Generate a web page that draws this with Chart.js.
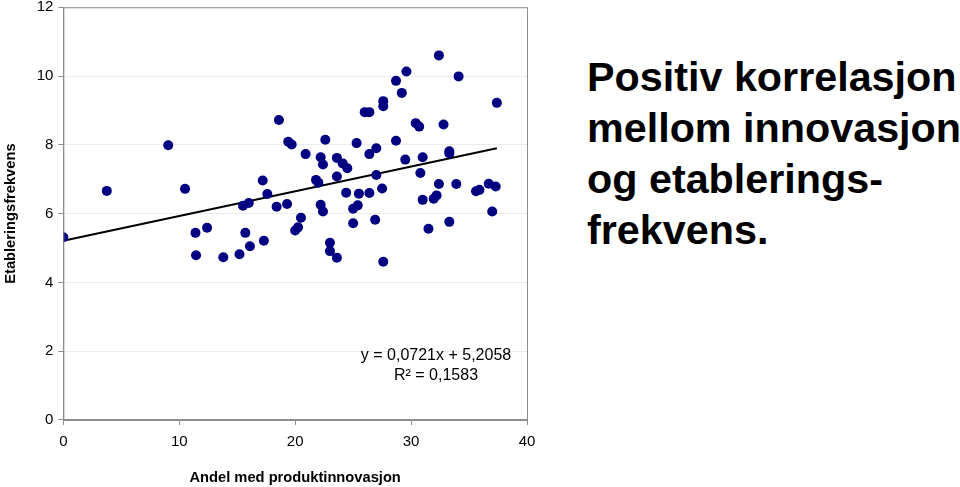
<!DOCTYPE html>
<html>
<head>
<meta charset="utf-8">
<script src="https://cdn.jsdelivr.net/npm/chart.js@4"></script>
<style>
  html, body { margin: 0; padding: 0; background: #fff; }
  body { width: 960px; height: 487px; position: relative; overflow: hidden; font-family: "Liberation Sans", Arial, sans-serif; }
  #chartBox { position: absolute; left: 0; top: 0; width: 560px; height: 487px; }
  #headline { position: absolute; left: 587px; top: 52px; font-weight: bold; font-size: 41.3px; line-height: 51px; color: #000; white-space: nowrap; }
</style>
</head>
<body>
<div id="chartBox"><canvas id="chartInnovasjon"></canvas></div>
<div id="headline">Positiv korrelasjon<br>mellom innovasjon<br>og etablerings-<br>frekvens.</div>
<script>
// andel med produktinnovasjon (x) og etableringsfrekvens (y), lest av figuren
const andelInnovasjon = [
    0, 3.75, 9.05, 10.5, 11.4, 11.45, 12.4, 13.8, 15.2, 15.5,
    16.0, 15.7, 16.1, 17.2, 17.3, 17.6, 18.4, 18.6, 19.3, 19.4,
    19.7, 20.0, 20.25, 20.5, 20.9, 21.8, 22.0, 22.2, 22.4, 22.6,
    22.2, 22.4, 23.0, 23.0, 23.6, 23.6, 23.6, 24.1, 24.5, 24.4,
    25.0, 25.4, 25.0, 25.3, 25.5, 26.0, 26.4, 26.4, 27.0, 27.0,
    26.4, 26.9, 27.5, 27.6, 27.6, 27.6, 28.7, 29.6, 29.2, 28.7,
    29.5, 30.4, 30.7, 31.0, 30.8, 31.0, 31.5, 31.95, 32.2, 32.4,
    32.4, 32.8, 33.3, 33.3, 33.3, 33.9, 34.1, 35.6, 35.9, 36.7,
    37.3, 37.0, 37.4
]
const etableringsfrekvens = [
    5.31, 6.66, 7.99, 6.72, 5.44, 4.79, 5.59, 4.73, 4.82, 6.23,
    6.31, 5.44, 5.05, 6.96, 5.21, 6.57, 6.2, 8.72, 6.28, 8.09,
    8.01, 5.51, 5.6, 5.88, 7.73, 6.98, 6.9, 7.64, 7.43, 8.15,
    6.26, 6.06, 5.15, 4.91, 4.72, 7.62, 7.08, 7.46, 7.32, 6.61,
    6.14, 6.24, 5.72, 8.05, 6.58, 8.95, 8.95, 7.73, 7.9, 7.12,
    6.6, 5.82, 6.73, 9.27, 9.12, 4.6, 9.86, 10.13, 9.51, 8.12,
    7.57, 8.63, 8.53, 7.64, 7.18, 6.4, 5.56, 6.43, 6.53, 10.6,
    6.86, 8.59, 7.81, 7.75, 5.76, 6.86, 9.99, 6.65, 6.69, 6.87,
    6.79, 6.06, 9.22
]
// trendlinje (endepunkter)
const trendX = [0, 37.4]
const trendY = [5.21, 7.90]
const equationLines = ["y = 0,0721x + 5,2058", "R\u00b2 = 0,1583"]
const equationPos = { x: 32.15, y: [1.87, 1.29] }

const fontFamily = "'Liberation Sans', Arial, sans-serif"

const plotFrame = {
    id: "plotFrame",
    afterDraw(chart) {
        const { ctx, chartArea: a, scales } = chart
        ctx.save()
        ctx.strokeStyle = "#8c8c8c"
        ctx.lineWidth = 1
        ctx.strokeRect(a.left + 0.5, a.top + 0.5, a.right - a.left, a.bottom - a.top)
        ctx.fillStyle = "#000"
        ctx.font = "16px " + fontFamily
        ctx.textAlign = "center"
        ctx.textBaseline = "middle"
        equationLines.forEach((t, i) => {
            ctx.fillText(t, scales.x.getPixelForValue(equationPos.x), scales.y.getPixelForValue(equationPos.y[i]))
        })
        ctx.restore()
    }
}

new Chart(
    document.getElementById("chartInnovasjon").getContext("2d"),
    {
        type: "scatter",
        data: {
            datasets: [
                {
                    label: "Etableringsfrekvens",
                    data: andelInnovasjon.map((x, i) => ({ x: x, y: etableringsfrekvens[i] })),
                    backgroundColor: "#000080",
                    borderColor: "#000080",
                    pointRadius: 5,
                    pointBorderWidth: 0
                },
                {
                    label: "Trend",
                    data: trendX.map((x, i) => ({ x: x, y: trendY[i] })),
                    showLine: true,
                    borderColor: "#000",
                    borderWidth: 2,
                    pointRadius: 0
                }
            ]
        },
        options: {
            responsive: true,
            maintainAspectRatio: false,
            animation: false,
            layout: { padding: { left: 0, right: 33, top: 0, bottom: 0 } },
            plugins: {
                legend: { display: false },
                tooltip: { enabled: false }
            },
            scales: {
                x: {
                    type: "linear",
                    min: 0,
                    max: 40,
                    ticks: {
                        stepSize: 10,
                        padding: 8,
                        color: "#000",
                        font: { family: fontFamily, size: 15 }
                    },
                    grid: { drawOnChartArea: false, tickLength: 5, color: "#8c8c8c" },
                    border: { color: "#8c8c8c" },
                    title: {
                        display: true,
                        text: "Andel med produktinnovasjon",
                        color: "#000",
                        padding: { top: 10.4, bottom: 0 },
                        font: { family: fontFamily, size: 14.7, weight: "bold" }
                    }
                },
                y: {
                    min: 0,
                    max: 12,
                    ticks: {
                        stepSize: 2,
                        padding: 5,
                        color: "#000",
                        font: { family: fontFamily, size: 15, lineHeight: 0.3 }
                    },
                    grid: { color: "#ececec", tickColor: "#8c8c8c", tickLength: 5 },
                    border: { color: "#8c8c8c" },
                    title: {
                        display: true,
                        text: "Etableringsfrekvens",
                        color: "#000",
                        padding: { top: 2, bottom: 12 },
                        font: { family: fontFamily, size: 14.7, weight: "bold" }
                    }
                }
            }
        },
        plugins: [plotFrame]
    }
)
</script>
</body>
</html>
